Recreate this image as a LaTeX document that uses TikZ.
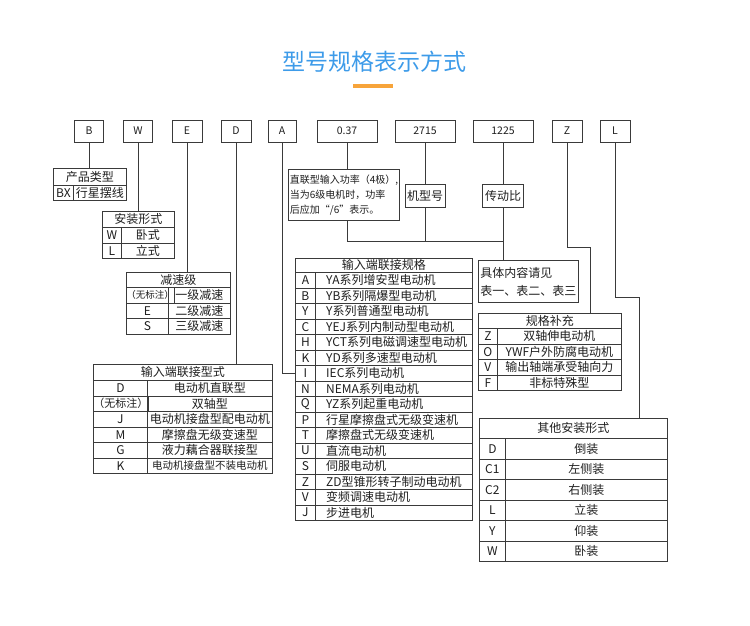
\documentclass[tikz,border=0pt]{standalone}
\usepackage{fontspec}
\setmainfont{Noto Sans CJK SC}
\usepackage{tikz}
\usetikzlibrary{positioning, calc}
\definecolor{titleblue}{HTML}{3D9BE9}
\definecolor{barorange}{HTML}{F7A43A}
\definecolor{linegray}{HTML}{3A3A3A}
\definecolor{textgray}{HTML}{1E1E1E}
\newcommand{\cellfont}{\fontsize{12}{14}\selectfont}
\newcommand{\codefont}{\fontsize{10.5}{12}\selectfont}
\newcommand{\notefont}{\fontsize{10}{15}\selectfont}
\newcommand{\detailfont}{\fontsize{12}{18}\selectfont}
\tikzset{
    box/.style={rectangle, draw=linegray, line width=0.8pt, inner sep=0pt, text=textgray},
    codebox/.style={box, minimum width=29pt, minimum height=22pt, font=\codefont},
    cell/.style={box, anchor=north west, font=\cellfont},
    celltext/.style={inner sep=0pt, anchor=west, text=textgray, font=\cellfont},
    notebox/.style={box, inner sep=1.5pt, align=left, anchor=north west},
    link/.style={draw=linegray, line width=0.8pt}
}
\begin{document}
\begin{tikzpicture}[x=1pt, y=-1pt]
    \useasboundingbox (0,0) rectangle (750,625);
    \node[text=titleblue, font=\fontsize{23}{26}\selectfont] (title) at (374,62) {型号规格表示方式};
    \fill[barorange] (353,84) rectangle (393,88);
    % code boxes
    \foreach \name/\lab/\x/\w in {B/B/89/29pt, W/W/138/29pt, E/E/187/30pt, D/D/236/30pt, A/A/282/28pt,
        p037/0.37/347/60pt, p2715/2715/425/60pt, p1225/1225/503/60pt, Z/Z/567/30pt, L/L/615/30pt}
        \node[codebox, minimum width=\w] (\name) at (\x,131) {\lab};
    % product type
    \node[cell, minimum width=73pt, minimum height=17pt] (prod-title) at (53,168) {产品类型};
    \node[cell, minimum width=20pt, minimum height=15pt] (prod-c1) at (53,185) {BX};
    \node[cell, minimum width=53pt, minimum height=15pt] (prod-d1) at (73,185) {行星摆线};
    % mounting
    \node[cell, minimum width=72pt, minimum height=16pt] (mount-title) at (102,211) {安装形式};
    \foreach \c/\d [count=\i] in {W/卧式, L/立式} {
        \node[cell, minimum width=19pt, minimum height=15.5pt] (mount-c\i) at (102,{227+(\i-1)*15.5}) {\c};
        \node[cell, minimum width=53pt, minimum height=15.5pt] (mount-d\i) at (121,{227+(\i-1)*15.5}) {\d};
    }
    % reduction stage
    \node[cell, minimum width=104pt, minimum height=15pt] (stage-title) at (126,272) {减速级};
    \foreach \c/\d [count=\i] in {{\fontsize{9.5}{10}\selectfont （无标注）}/一级减速, E/二级减速, S/三级减速} {
        \node[cell, minimum width=42pt, minimum height=15.5pt] (stage-c\i) at (126,{287+(\i-1)*15.5}) {\c};
        \node[cell, minimum width=62pt, minimum height=15.5pt] (stage-d\i) at (168,{287+(\i-1)*15.5}) {\d};
    }
    % input connection type
    \node[cell, minimum width=179pt, minimum height=16pt] (conn-title) at (93,364) {输入端联接型式};
    \foreach \c/\d [count=\i] in {D/电动机直联型, {\fontsize{11}{12}\selectfont （无标注）}/双轴型,
        J/电动机接盘型配电动机, M/摩擦盘无级变速型, G/液力藕合器联接型,
        K/{\fontsize{10.5}{12}\selectfont 电动机接盘型不装电动机}} {
        \node[cell, minimum width=54pt, minimum height=15.5pt] (conn-c\i) at (93,{380+(\i-1)*15.5}) {\c};
        \node[cell, minimum width=125pt, minimum height=15.5pt] (conn-d\i) at (147,{380+(\i-1)*15.5}) {\d};
    }
    % input connection spec
    \node[cell, minimum width=177pt, minimum height=14pt] (spec-title) at (295,258) {输入端联接规格};
    \foreach \c/\d [count=\i] in {A/YA系列增安型电动机, B/YB系列隔爆型电动机, Y/Y系列普通型电动机,
        C/YEJ系列内制动型电动机, H/YCT系列电磁调速型电动机, K/YD系列多速型电动机,
        I/IEC系列电动机, N/NEMA系列电动机, Q/YZ系列起重电动机, P/行星摩擦盘式无级变速机,
        T/摩擦盘式无级变速机, U/直流电动机, S/伺服电动机, Z/ZD型锥形转子制动电动机,
        V/变频调速电动机, J/步进电机} {
        \node[cell, minimum width=20pt, minimum height=15.5pt] (spec-c\i) at (295,{272+(\i-1)*15.5}) {\c};
        \node[cell, minimum width=157pt, minimum height=15.5pt] (spec-d\i) at (315,{272+(\i-1)*15.5}) {};
        \node[celltext] (spec-t\i) at ([xshift=11pt]spec-d\i.west) {\d};
    }
    % power, model, ratio
    \node[notebox, font=\notefont, minimum width=110pt, minimum height=51pt] (power) at (288,169)
        {直联型输入功率（4极）,\\当为6级电机时，功率\\后应加“/6”表示。};
    \node[box, font=\cellfont, minimum width=40pt, minimum height=23pt] (model) at (425,195.5) {机型号};
    \node[box, font=\cellfont, minimum width=41pt, minimum height=23pt] (ratio) at (503,195.5) {传动比};
    \node[notebox, font=\detailfont, minimum width=100pt, minimum height=42pt] (detail) at (478,260)
        {具体内容请见\\表一、表二、表三};
    % supplement
    \node[cell, minimum width=143pt, minimum height=15pt] (suppl-title) at (478,313) {规格补充};
    \foreach \c/\d [count=\i] in {Z/双轴伸电动机, O/YWF户外防腐电动机, V/输出轴端承受轴向力, F/非标特殊型} {
        \node[cell, minimum width=19pt, minimum height=15.5pt] (suppl-c\i) at (478,{328+(\i-1)*15.5}) {\c};
        \node[cell, minimum width=124pt, minimum height=15.5pt] (suppl-d\i) at (497,{328+(\i-1)*15.5}) {\d};
    }
    % other mounting
    \node[cell, minimum width=188pt, minimum height=20pt] (other-title) at (479,418) {其他安装形式};
    \foreach \c/\d [count=\i] in {D/倒装, C1/左侧装, C2/右侧装, L/立装, Y/仰装, W/卧装} {
        \node[cell, minimum width=26pt, minimum height=20.5pt] (other-c\i) at (479,{438+(\i-1)*20.5}) {\c};
        \node[cell, minimum width=162pt, minimum height=20.5pt] (other-d\i) at (505,{438+(\i-1)*20.5}) {\d};
    }
    % connectors
    \coordinate (bus) at (503,241);
    \coordinate (zbend) at (590,247);
    \coordinate (lbend) at (639,297);
    \draw[link] (B.south) -- (B.south |- prod-title.north);
    \draw[link] (W.south) -- (W.south |- mount-title.north);
    \draw[link] (E.south) -- (E.south |- stage-title.north);
    \draw[link] (D.south) -- (D.south |- conn-title.north);
    \draw[link] (A.south) |- (spec-c7.west);
    \draw[link] (p037.south) -- (p037.south |- power.north);
    \draw[link] (p037.south |- power.south) |- (bus);
    \draw[link] (p2715.south) -- (model.north);
    \draw[link] (model.south) -- (model.south |- bus);
    \draw[link] (p1225.south) -- (ratio.north);
    \draw[link] (ratio.south) -- (ratio.south |- detail.north);
    \draw[link] (Z.south) |- (zbend) -- (zbend |- suppl-title.north);
    \draw[link] (L.south) |- (lbend) -- (lbend |- other-title.north);
\end{tikzpicture}
\end{document}
